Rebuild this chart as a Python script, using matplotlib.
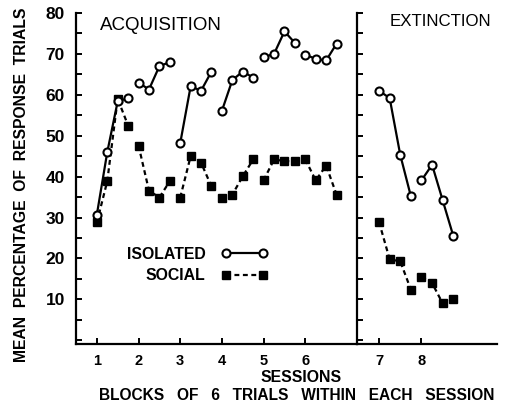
import numpy as np
import matplotlib
matplotlib.use("Agg")
import matplotlib.pyplot as plt

plt.rcParams['font.family'] = ['Liberation Sans', 'DejaVu Sans']
plt.rcParams['font.weight'] = 'bold'

# blocks of 6 trials within each session (4 blocks per session)
blocks = [0.0, 0.25, 0.5, 0.75]

acq_sessions = [1, 2, 3, 4, 5, 6]
ext_sessions = [7, 8]

# mean percentage of response trials, one row per session
isolated_acq = [[30.7, 46.0, 58.4, 59.2],
                [63.0, 61.3, 67.0, 68.0],
                [48.2, 62.1, 61.0, 65.7],
                [56.1, 63.6, 65.7, 64.2],
                [69.2, 70.0, 75.5, 72.7],
                [69.8, 68.8, 68.4, 72.5]]
social_acq = [[28.8, 38.9, 59.0, 52.5],
              [47.6, 36.6, 34.9, 38.9],
              [34.9, 45.0, 43.4, 37.6],
              [34.9, 35.6, 40.1, 44.2],
              [39.1, 44.2, 43.8, 43.8],
              [44.2, 39.1, 42.7, 35.6]]
isolated_ext = [[61.0, 59.2, 45.3, 35.2],
                [39.1, 42.9, 34.2, 25.5]]
social_ext = [[28.9, 19.8, 19.3, 12.4],
              [15.5, 14.0, 9.0, 10.0]]

fig = plt.figure(figsize=(5.14, 4.09), dpi=100)
ax1 = fig.add_axes([76/514, 65/409, 281/514, 331/409])
ax2 = fig.add_axes([357/514, 65/409, 140/514, 331/409])

def draw(ax, sessions, iso, soc):
    for i, s in enumerate(sessions):
        x = [s + b for b in blocks]
        ax.plot(x, soc[i], color='black', ls=(0, (2.2, 1.6)), lw=1.6,
                marker='s', ms=5.2, mfc='black', mec='black',
                label='SOCIAL' if i == 0 else None)
        ax.plot(x, iso[i], color='black', ls='-', lw=1.6,
                marker='o', ms=5.8, mfc='white', mec='black', mew=1.5,
                label='ISOLATED' if i == 0 else None)

draw(ax1, acq_sessions, isolated_acq, social_acq)
draw(ax2, ext_sessions, isolated_ext, social_ext)

for ax in (ax1, ax2):
    ax.set_ylim(-0.9, 80)
    ax.set_yticks(np.arange(0, 81, 5))
    for sp in ('top', 'right'):
        ax.spines[sp].set_visible(False)
    for sp in ('left', 'bottom'):
        ax.spines[sp].set_linewidth(1.6)
    ax.tick_params(direction='in', length=4, width=1.4, labelsize=12.5)
    ax.tick_params(axis='x', labelsize=10.5, pad=7)
    ax.patch.set_alpha(0)

ax1.set_xlim(0.5, 7.24)
ax1.set_xticks(acq_sessions)
ax1.set_yticklabels([str(v) if v % 10 == 0 and v > 0 else '' for v in range(0, 81, 5)])
ax1.tick_params(axis='y', pad=8)

ax2.set_xlim(6.48, 9.78)
ax2.set_xticks(ext_sessions)
ax2.set_yticklabels([])

ax1.text(100/514, 1 - 25/409, 'ACQUISITION', transform=fig.transFigure,
         fontsize=13.5, fontweight='normal', ha='left', va='center')
ax2.text(390/514, 1 - 22/409, 'EXTINCTION', transform=fig.transFigure,
         fontsize=12.2, fontweight='normal', ha='left', va='center')

fig.text(22/514, 1 - 185/409, 'MEAN  PERCENTAGE  OF  RESPONSE  TRIALS',
         rotation=90, ha='center', va='center', fontsize=11.3)
fig.text(301/514, 1 - 378/409, 'SESSIONS', ha='center', va='center', fontsize=11.4)
fig.text(297/514, 1 - 396/409, 'BLOCKS   OF   6   TRIALS   WITHIN   EACH   SESSION',
         ha='center', va='center', fontsize=11.2)

h, l = ax1.get_legend_handles_labels()
order = [l.index('ISOLATED'), l.index('SOCIAL')]
ax1.legend([h[i] for i in order], [l[i] for i in order],
           loc='upper left', bbox_to_anchor=(127/514, 1 - 247/409),
           bbox_transform=fig.transFigure, frameon=False, markerfirst=False,
           numpoints=2, handlelength=2.9, handletextpad=1.0, labelspacing=0.4,
           borderpad=0, borderaxespad=0, fontsize=11.4)

fig.savefig('out.png', dpi=100)
